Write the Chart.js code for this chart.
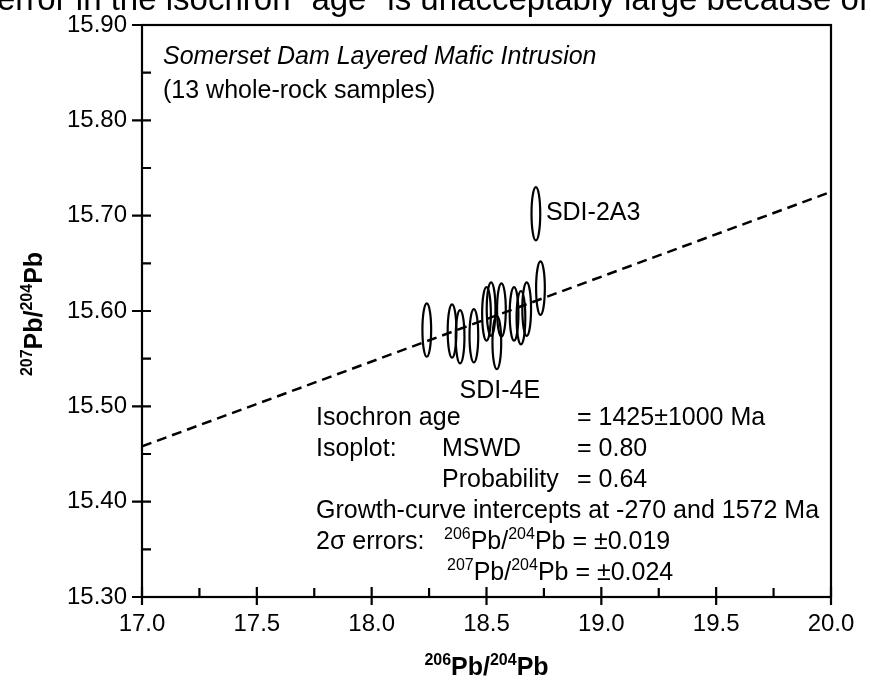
<!DOCTYPE html>
<html>
<head>
<meta charset="utf-8">
<title>Somerset Dam Pb-Pb isochron</title>
<script src="https://cdn.jsdelivr.net/npm/chart.js@4"></script>
<style>
  html, body { margin: 0; padding: 0; background: #fff; }
  canvas { display: block; }
</style>
</head>
<body>
<canvas id="isochronChart" width="871" height="680"></canvas>
<script>
// Sample data: 206Pb/204Pb (x) and 207Pb/204Pb (y), one per whole-rock sample
const sampleNames = ['', '', '', '', '', '', 'SDI-4E', '', '', '', '', '', 'SDI-2A3'];
const pb206 = [18.24, 18.35, 18.385, 18.445, 18.50, 18.52, 18.545, 18.565, 18.62, 18.65, 18.675, 18.735, 18.715];
const pb207 = [15.580, 15.579, 15.573, 15.574, 15.597, 15.602, 15.567, 15.601, 15.597, 15.593, 15.602, 15.624, 15.702];

// error ellipse half-axes
const errX = 0.019;
const errY = 0.028;

// isochron regression line
const isoX = [17.0, 20.0];
const isoY = [15.458, 15.725];

// axis ticks
const xTicks = [17.0, 17.5, 18.0, 18.5, 19.0, 19.5, 20.0];
const xMinor = [17.25, 17.75, 18.25, 18.75, 19.25, 19.75];
const yTicks = [15.30, 15.40, 15.50, 15.60, 15.70, 15.80, 15.90];
const yMinor = [15.35, 15.45, 15.55, 15.65, 15.75, 15.85];

const FONT = '"Liberation Sans", Arial, Helvetica, sans-serif';

// draw text made of normal + superscript pieces
function drawRich(ctx, parts, x, y, size, weight, align) {
    const supSize = Math.round(size * 0.62);
    let total = 0;
    parts.forEach(p => {
        ctx.font = `${weight} ${p[1] ? supSize : size}px ${FONT}`;
        total += ctx.measureText(p[0]).width;
    });
    let cx = align === 'center' ? x - total / 2 : x;
    ctx.textAlign = 'left';
    ctx.textBaseline = 'middle';
    parts.forEach(p => {
        ctx.font = `${weight} ${p[1] ? supSize : size}px ${FONT}`;
        ctx.fillText(p[0], cx, p[1] ? y - size * 0.3 : y);
        cx += ctx.measureText(p[0]).width;
    });
}

const ellipsePlugin = {
    id: 'errorEllipses',
    afterDatasetsDraw(chart) {
        const ctx = chart.ctx;
        const xs = chart.scales.x, ys = chart.scales.y;
        const meta = chart.getDatasetMeta(1);
        ctx.save();
        ctx.strokeStyle = '#000';
        ctx.lineWidth = 2.2;
        meta.data.forEach((pt, i) => {
            const rx = Math.abs(xs.getPixelForValue(pb206[i] + errX) - pt.x);
            const ry = Math.abs(ys.getPixelForValue(pb207[i] + errY) - pt.y);
            ctx.beginPath();
            ctx.ellipse(pt.x, pt.y, rx, ry, 0, 0, Math.PI * 2);
            ctx.stroke();
        });
        // sample labels
        ctx.fillStyle = '#000';
        ctx.font = `25px ${FONT}`;
        ctx.textBaseline = 'middle';
        meta.data.forEach((pt, i) => {
            if (sampleNames[i] === 'SDI-4E') {
                ctx.textAlign = 'center';
                ctx.fillText(sampleNames[i], pt.x + 3, pt.y + 49);
            } else if (sampleNames[i] === 'SDI-2A3') {
                ctx.textAlign = 'left';
                ctx.fillText(sampleNames[i], pt.x + 10, pt.y - 1);
            }
        });
        ctx.restore();
    }
};

const framePlugin = {
    id: 'frameAndText',
    afterDraw(chart) {
        const ctx = chart.ctx;
        const a = chart.chartArea;
        const xs = chart.scales.x, ys = chart.scales.y;
        ctx.save();
        ctx.strokeStyle = '#000';
        ctx.fillStyle = '#000';
        ctx.lineWidth = 2.2;
        ctx.strokeRect(a.left, a.top, a.right - a.left, a.bottom - a.top);

        // y ticks
        ctx.beginPath();
        yTicks.forEach(v => {
            const p = ys.getPixelForValue(v);
            ctx.moveTo(a.left - 10, p);
            ctx.lineTo(a.left + 9, p);
        });
        yMinor.forEach(v => {
            const p = ys.getPixelForValue(v);
            ctx.moveTo(a.left, p);
            ctx.lineTo(a.left + 9, p);
        });
        // x ticks
        xTicks.forEach(v => {
            const p = xs.getPixelForValue(v);
            ctx.moveTo(p, a.bottom + 8);
            ctx.lineTo(p, a.bottom - 10);
        });
        xMinor.forEach(v => {
            const p = xs.getPixelForValue(v);
            ctx.moveTo(p, a.bottom);
            ctx.lineTo(p, a.bottom - 9);
        });
        ctx.stroke();

        ctx.font = `24px ${FONT}`;
        ctx.textBaseline = 'middle';
        ctx.textAlign = 'right';
        yTicks.forEach(v => ctx.fillText(v.toFixed(2), a.left - 15, ys.getPixelForValue(v)));
        ctx.textAlign = 'center';
        xTicks.forEach(v => ctx.fillText(v.toFixed(1), xs.getPixelForValue(v), a.bottom + 27));

        // axis titles
        drawRich(ctx, [['206', true], ['Pb/', false], ['204', true], ['Pb', false]], (a.left + a.right) / 2, 668, 25, 'bold', 'center');
        ctx.save();
        ctx.translate(35, 314);
        ctx.rotate(-Math.PI / 2);
        drawRich(ctx, [['207', true], ['Pb/', false], ['204', true], ['Pb', false]], 0, 0, 25, 'bold', 'center');
        ctx.restore();

        // title block
        ctx.textAlign = 'left';
        ctx.font = `italic 25px ${FONT}`;
        ctx.fillText('Somerset Dam Layered Mafic Intrusion', 163, 57);
        ctx.font = `25px ${FONT}`;
        ctx.fillText('(13 whole-rock samples)', 163, 91);

        // statistics block
        ctx.fillText('Isochron age', 316, 418);
        ctx.fillText('= 1425\u00b11000 Ma', 577, 418);
        ctx.fillText('Isoplot:', 316, 449);
        ctx.fillText('MSWD', 442, 449);
        ctx.fillText('= 0.80', 577, 449);
        ctx.fillText('Probability', 442, 480);
        ctx.fillText('= 0.64', 577, 480);
        ctx.fillText('Growth-curve intercepts at -270 and 1572 Ma', 316, 511);
        ctx.fillText('2\u03c3 errors:', 316, 542);
        drawRich(ctx, [['206', true], ['Pb/', false], ['204', true], ['Pb = \u00b10.019', false]], 444, 542, 25, 'normal', 'left');
        drawRich(ctx, [['207', true], ['Pb/', false], ['204', true], ['Pb = \u00b10.024', false]], 447, 573, 25, 'normal', 'left');

        // clipped caption line from the page above the figure
        const caption = 'error in the isochron "age" is unacceptably large because of';
        ctx.font = `33px ${FONT}`;
        ctx.textBaseline = 'alphabetic';
        ctx.textAlign = 'left';
        const w = ctx.measureText(caption).width;
        ctx.translate(-3, 10);
        ctx.scale(871 / w, 1);
        ctx.fillText(caption, 0, 0);
        ctx.restore();
    }
};

const ctx = document.getElementById('isochronChart').getContext('2d');
new Chart(ctx, {
    type: 'scatter',
    data: {
        datasets: [{
            label: 'Isochron',
            type: 'line',
            data: isoX.map((x, i) => ({ x: x, y: isoY[i] })),
            borderColor: '#000',
            borderWidth: 2.5,
            borderDash: [10, 6],
            pointRadius: 0,
            fill: false
        }, {
            label: 'Samples',
            data: pb206.map((x, i) => ({ x: x, y: pb207[i] })),
            pointRadius: 0,
            showLine: false
        }]
    },
    options: {
        responsive: false,
        animation: false,
        devicePixelRatio: 1,
        layout: { padding: { left: 142, right: 40, top: 25, bottom: 83 } },
        plugins: {
            legend: { display: false },
            tooltip: { enabled: false }
        },
        scales: {
            x: { type: 'linear', min: 17, max: 20, display: false },
            y: { type: 'linear', min: 15.3, max: 15.9, display: false }
        }
    },
    plugins: [ellipsePlugin, framePlugin]
});
</script>
</body>
</html>
